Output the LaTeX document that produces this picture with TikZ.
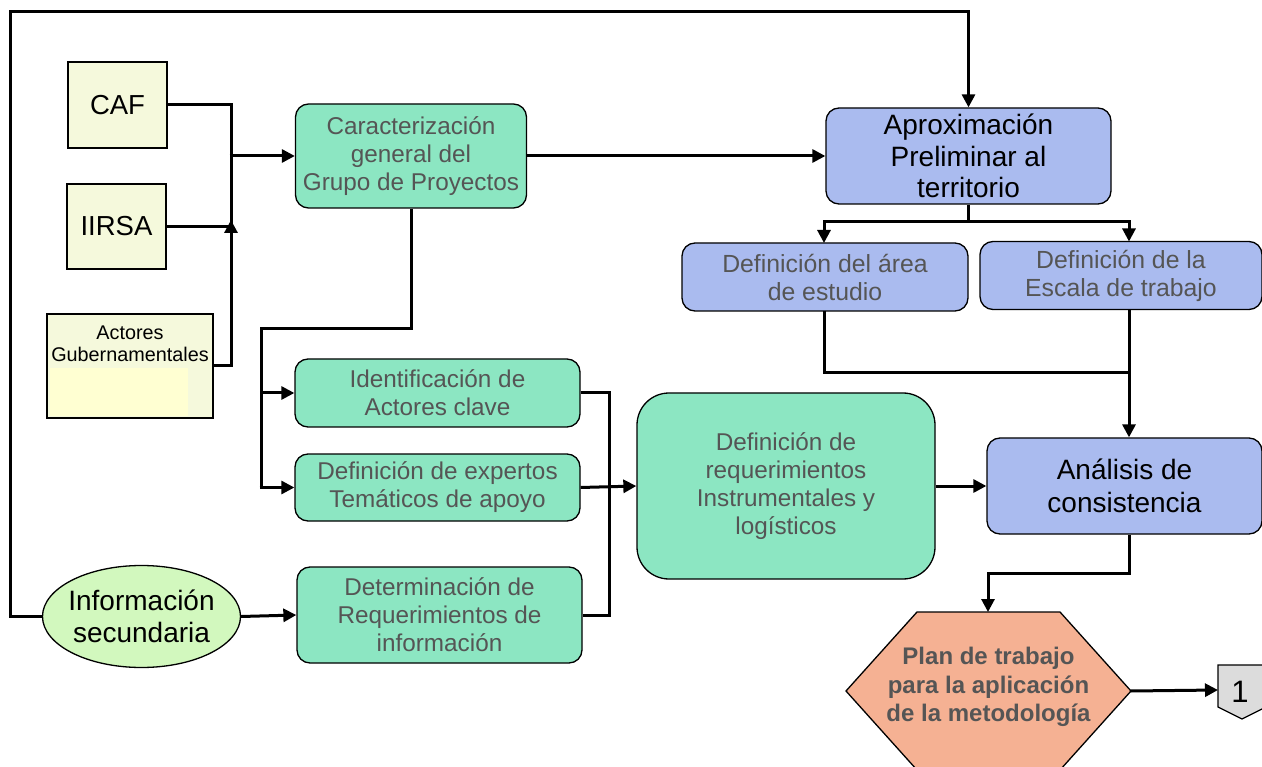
\documentclass[tikz,border=0pt]{standalone}
\usepackage{fontspec}
\setmainfont{Liberation Sans}
\usetikzlibrary{arrows.meta,shapes.geometric}
\definecolor{ybox}{HTML}{F5F9DC}
\definecolor{yin}{HTML}{FFFFD2}
\definecolor{mint}{HTML}{8CE6C2}
\definecolor{blu}{HTML}{AABBEF}
\definecolor{salm}{HTML}{F5B193}
\definecolor{lgreen}{HTML}{D2F8BE}
\definecolor{txtg}{HTML}{555555}
\definecolor{gry}{HTML}{DCDCDC}
\begin{document}
\begin{tikzpicture}[x=1pt,y=-1pt,
  conn/.style={line width=3pt},
  arr/.style={conn,-{Triangle[length=13pt,width=13pt]}},
  ybx/.style={draw,line width=1.3pt,fill=ybox,inner sep=0pt,align=center,font=\fontsize{27.5}{31}\selectfont},
  gbx/.style={draw,line width=1.3pt,fill=mint,rounded corners=13pt,inner sep=0pt,align=center,text=txtg,font=\fontsize{24.3}{28}\selectfont},
  bbx/.style={draw,line width=1.3pt,fill=blu,rounded corners=13pt,inner sep=0pt,align=center,font=\fontsize{24.8}{28}\selectfont},
  ]
\useasboundingbox (0,0) rectangle (1262,767);
\fill[white] (0,0) rectangle (1262,767);

% left sources
\node[ybx,minimum width=99pt,minimum height=86pt] (caf) at (117.5,105) {CAF};
\node[ybx,minimum width=99pt,minimum height=85pt] (iirsa) at (116.5,226.5) {IIRSA};
\node[ybx,minimum width=166pt,minimum height=104pt] (act) at (130,366) {};
\fill[yin] (50,368) rectangle (188,416.5);
\node[align=center,font=\fontsize{19.8}{22.5}\selectfont] (acttxt) at (130,344) {Actores\\Gubernamentales};

% green boxes
\node[gbx,minimum width=231pt,minimum height=104pt] (carac) at (411,156) {Caracterización\\general del\\Grupo de Proyectos};
\node[gbx,minimum width=285pt,minimum height=68pt] (ident) at (437.5,393) {Identificación de\\Actores clave};
\node[gbx,minimum width=285pt,minimum height=67pt] (exper) at (437.5,487.5) {Definición de expertos\\Temáticos de apoyo};
\node[gbx,minimum width=285pt,minimum height=96pt] (deter) at (439.5,615) {Determinación de\\Requerimientos de\\información};
\node[gbx,rounded corners=32pt,minimum width=298pt,minimum height=186pt] (reqs) at (786,486) {Definición de\\requerimientos\\Instrumentales y\\logísticos};

% ellipse
\node[draw,line width=1.3pt,fill=lgreen,ellipse,inner sep=0pt,minimum width=198pt,minimum height=102pt] (info) at (141.5,616.5) {};
\node[align=center,font=\fontsize{28}{32}\selectfont] (infotxt) at (141.5,616.5) {Información\\secundaria};

% blue boxes
\node[bbx,minimum width=285pt,minimum height=96pt,font=\fontsize{28}{31.5}\selectfont] (aprox) at (968.5,156) {Aproximación\\Preliminar al\\territorio};
\node[bbx,minimum width=286pt,minimum height=68pt,text=txtg] (area) at (825,277) {Definición del área\\de estudio};
\node[bbx,minimum width=282pt,minimum height=68pt,text=txtg] (escala) at (1121,275.5) {Definición de la\\Escala de trabajo};
\node[bbx,minimum width=275pt,minimum height=96pt,font=\fontsize{28}{33}\selectfont] (anal) at (1124.5,486) {Análisis de\\consistencia};

% hexagon
\coordinate (hexT) at (988,612);
\coordinate (hexL) at (846,691);
\coordinate (hexR) at (1131,691);
\draw[line width=1.3pt,fill=salm] (917,612) -- (1060,612) -- (hexR) -- (1060,770) -- (917,770) -- (hexL) -- cycle;
\node[align=center,text=txtg,font=\bfseries\fontsize{24}{28.3}\selectfont] (plan) at (988.5,687) {Plan de trabajo\\para la aplicación\\de la metodología};

% off-page connector
\draw[line width=1.3pt,fill=gry] (1218,665) -- (1266,665) -- (1266,707) -- (1242,719) -- (1218,707) -- cycle;
\node[font=\fontsize{31}{34}\selectfont] (one) at (1240,692) {1};
\coordinate (oneL) at (1218,690);

% connectors
\coordinate (top1) at (10,12);
\draw[arr] (info.west) -- (10,616.5) -- (top1) -- (aprox.north |- top1) -- (aprox.north);

\draw[conn] (caf.east) -- (231,105) -- (231,157);
\draw[arr] (act.east) -- (231,366) -- (231,220);
\draw[conn] (231,230) -- (231,157);
\draw[conn] (iirsa.east) -- (231,226.5);
\draw[arr] (229.5,156) -- (carac.west);

\draw[arr] (carac.east) -- (aprox.west);

\draw[conn] (carac.south) -- (411,329) -- (261,329) -- (261,488.5);
\draw[arr] (261,393) -- (ident.west);
\draw[arr] (259.5,487.5) -- (exper.west);

\draw[conn] (ident.east) -- (609,393) -- (609,615) -- (deter.east);
\draw[arr] (exper.east) -- (reqs.west);
\draw[arr] (info.east) -- (deter.west);

\draw[arr] (reqs.east) -- (anal.west);

\draw[conn] (aprox.south) -- (968.5,222);
\draw[arr] (970,222) -- (824,222) -- (824,243);
\draw[arr] (967,222) -- (1129,222) -- (1129,241.5);

\draw[conn] (824,311) -- (824,373) -- (1129,373);
\draw[arr] (1129,309.5) -- (anal.north -| 1129,0);

\draw[arr] (anal.south -| 1129,0) -- (1129,573) -- (988,573) -- (hexT);
\draw[arr] (hexR) -- (oneL);
\end{tikzpicture}
\end{document}
